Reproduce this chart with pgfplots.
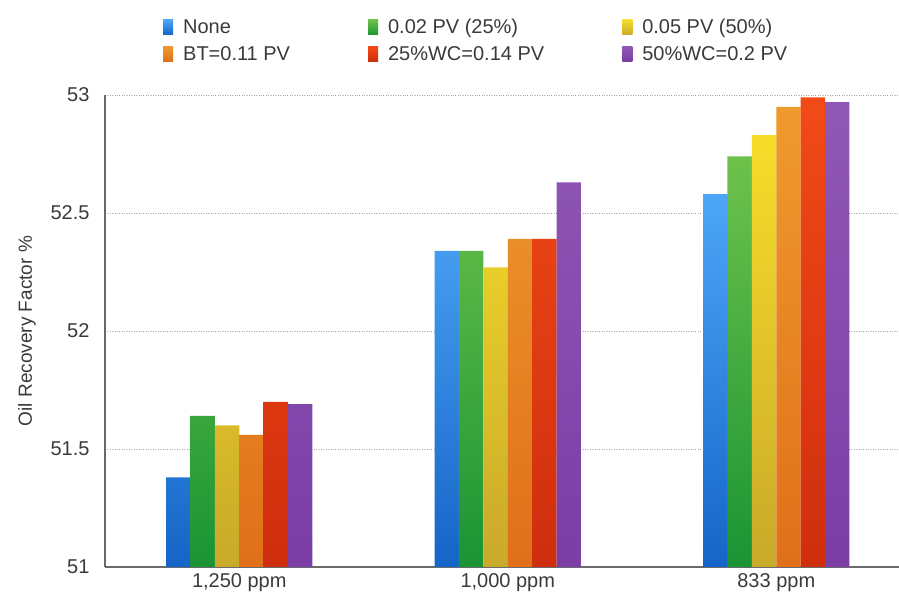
\documentclass[border=0pt]{standalone}
\usepackage{fontspec}
\setmainfont{Liberation Sans}
\usepackage{pgfplots}
\pgfplotsset{compat=1.18}

% top / bottom colours of each shaded bar
\definecolor{blueT}{HTML}{4DA6F7}\definecolor{blueB}{HTML}{1565C8}
\definecolor{greenT}{HTML}{6EC24B}\definecolor{greenB}{HTML}{1A9434}
\definecolor{yellowT}{HTML}{F7DD2A}\definecolor{yellowB}{HTML}{C9A92A}
\definecolor{orangeT}{HTML}{EE9A2E}\definecolor{orangeB}{HTML}{E0701A}
\definecolor{redT}{HTML}{F24A17}\definecolor{redB}{HTML}{CF2E0E}
\definecolor{purpleT}{HTML}{9058B5}\definecolor{purpleB}{HTML}{7A3EA6}
\definecolor{txt}{HTML}{3A3A3A}
\definecolor{axisgray}{HTML}{6A6A6A}

\begin{document}
\begin{tikzpicture}
\begin{axis}[
  name=main,
  scale only axis, width=794pt, height=472pt,
  % bars grow from the bottom of the axis (51)
  y coord trafo/.code={\pgfmathparse{#1-51}},
  y coord inv trafo/.code={\pgfmathparse{#1+51}},
  ymin=51, ymax=53, ytick={51,51.5,52,52.5,53},
  xmin=-0.5, xmax=2.457,
  xtick={0,1,2},
  xticklabels={{1,250 ppm},{1,000 ppm},{833 ppm}},
  ybar=0pt, bar width=24.4pt,
  axis x line*=bottom, axis y line*=left,
  axis line style={-, draw=axisgray, line width=1.1pt},
  major tick length=0pt,
  ymajorgrids,
  grid style={dotted, draw=gray!70, line width=0.9pt},
  /pgf/number format/assume math mode=true,
  ticklabel style={font=\fontsize{20}{24}\selectfont, text=txt},
  yticklabel style={xshift=-12pt},
  xticklabel style={yshift=-3pt},
  ylabel={Oil Recovery Factor \%},
  ylabel style={at={(axis description cs:-0.0982,0.5)}, anchor=center,
    font=\fontsize{19}{23}\selectfont, text=txt},
  legend columns=3,
  legend cell align=left,
  legend image code/.code={\path[#1, draw=none] (0pt,-7.5pt) rectangle (10pt,7.5pt);},
  legend style={draw=none, fill=none, inner sep=0pt,
    at={(rel axis cs:0.073,1.165)}, anchor=north west,
    font=\fontsize{20}{24}\selectfont, text=txt, row sep=7pt,
    /tikz/every odd column/.append style={column sep=8pt},
    /tikz/every even column/.append style={column sep=76pt}},
]
\addplot[draw=none, top color=blueT, bottom color=blueB]
  coordinates {(0,51.38) (1,52.34) (2,52.58)};
\addplot[draw=none, top color=greenT, bottom color=greenB]
  coordinates {(0,51.64) (1,52.34) (2,52.74)};
\addplot[draw=none, top color=yellowT, bottom color=yellowB]
  coordinates {(0,51.60) (1,52.27) (2,52.83)};
\addplot[draw=none, top color=orangeT, bottom color=orangeB]
  coordinates {(0,51.56) (1,52.39) (2,52.95)};
\addplot[draw=none, top color=redT, bottom color=redB]
  coordinates {(0,51.70) (1,52.39) (2,52.99)};
\addplot[draw=none, top color=purpleT, bottom color=purpleB]
  coordinates {(0,51.69) (1,52.63) (2,52.97)};
\legend{None, 0.02 PV (25\%), 0.05 PV (50\%), BT=0.11 PV, 25\%WC=0.14 PV, 50\%WC=0.2 PV}
\end{axis}
\pgfresetboundingbox
\path[use as bounding box]
  ([xshift=-105pt, yshift=-36pt]main.south west) rectangle ([yshift=95pt]main.north east);
\end{tikzpicture}
\end{document}
